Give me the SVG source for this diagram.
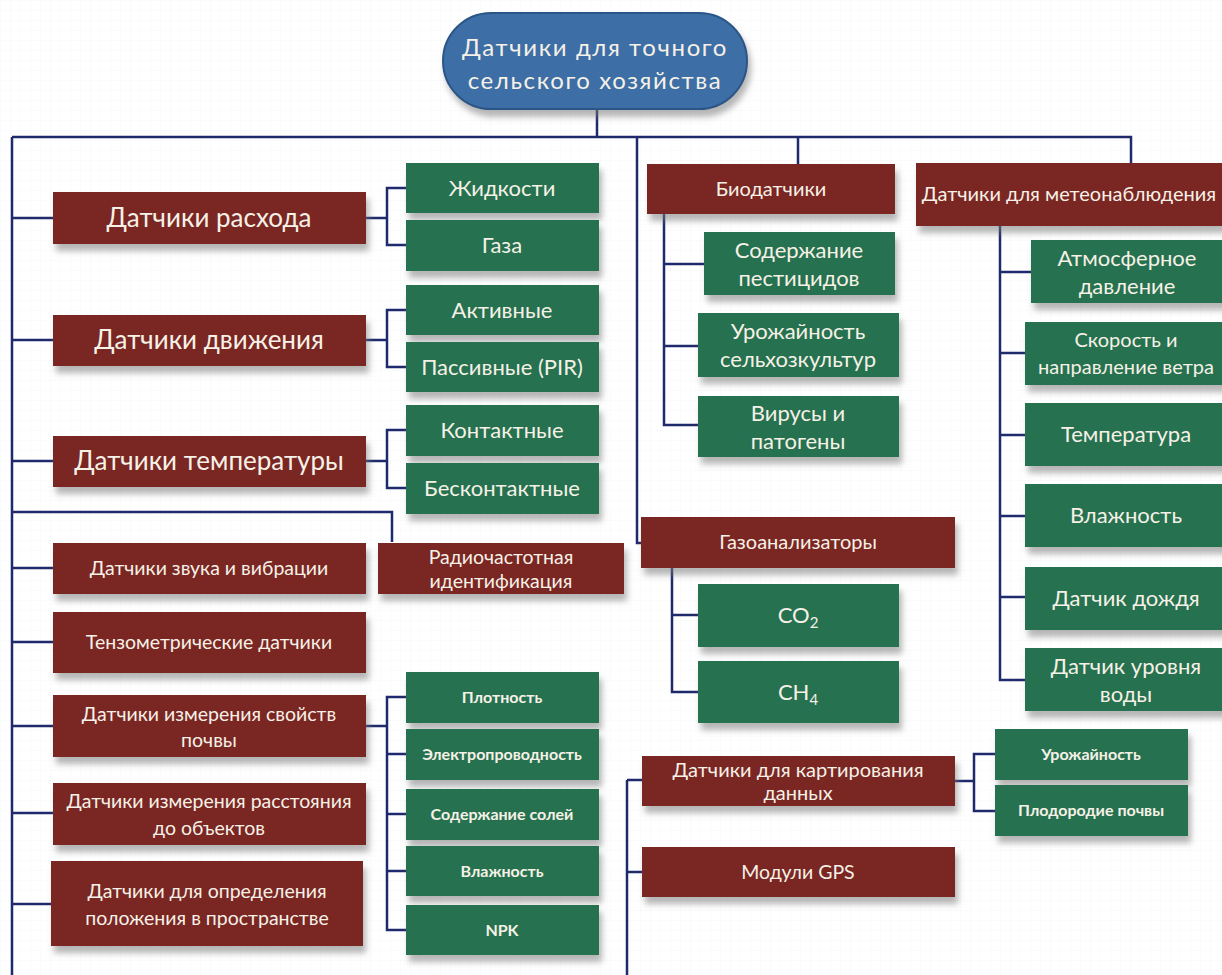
<svg xmlns="http://www.w3.org/2000/svg" width="1222" height="975" viewBox="0 0 1222 975">
<defs>
<pattern id="grid" width="10" height="10" patternUnits="userSpaceOnUse">
<path d="M10 0H0V10" fill="none" stroke="#f0f2f5" stroke-width="0.7"/>
</pattern>
<filter id="sh" x="-10%" y="-20%" width="125%" height="160%">
<feDropShadow dx="3" dy="7" stdDeviation="3" flood-color="#7a7a7a" flood-opacity="0.55"/>
</filter>
</defs>
<style>
.r{fill:#7a2622;filter:url(#sh)}
.g{fill:#27714f;filter:url(#sh)}
.b{fill:#3d6ea6;stroke:#2b5687;stroke-width:2;filter:url(#sh)}
text{font-family:Lato,"Noto Sans",sans-serif;fill:#f6f1e7;text-anchor:middle}
.t0{font-size:24px;letter-spacing:1.6px}
.tL{font-size:26px}
.tM{font-size:22px}
.tS{font-size:19.5px}
.tX{font-size:20px}
.tXS{font-size:16px;font-weight:bold}
.c{fill:none;stroke:#1f2a6c;stroke-width:2.5}
</style>
<rect width="1222" height="975" fill="#ffffff"/>
<rect width="1222" height="975" fill="url(#grid)"/>

<g id="connectors">
<path class="c" d="M597 108V137M12 137H1131V163M798 137V164M637 137V543H641M12 137V975"/>
<path class="c" d="M12 218H53M12 340H53M12 461H53M12 568H53M12 642H53M12 726H53M12 813H53M12 904H51"/>
<path class="c" d="M12 512H392V542"/>
<path class="c" d="M366 218H387M406 188H387V245H406"/>
<path class="c" d="M366 340H387M406 310H387V367H406"/>
<path class="c" d="M366 461H387M406 430H387V488H406"/>
<path class="c" d="M366 726H387M406 697H387V930H406M387 754H406M387 814H406M387 871H406"/>
<path class="c" d="M664 214V425H698M664 264H704M664 346H698"/>
<path class="c" d="M1000 226V680H1025M1000 272H1031M1000 353H1025M1000 435H1025M1000 516H1025M1000 597H1025"/>
<path class="c" d="M672 568V692H698M672 615H698"/>
<path class="c" d="M955 781H974M995 754H974V811H995"/>
<path class="c" d="M627 780V975M627 780H642M627 872H642"/>
</g>

<g id="root"><rect class="b" x="443" y="13" width="304" height="96" rx="48"/>
<text class="t0" x="595" y="56">Датчики для точного</text>
<text class="t0" x="595" y="89">сельского хозяйства</text></g>

<g id="rashod"><rect class="r" x="53" y="192" width="313" height="52"/><text class="tL" x="209" y="227">Датчики расхода</text></g>
<g id="zhidkosti"><rect class="g" x="406" y="163" width="193" height="50"/><text class="tM" x="502" y="196">Жидкости</text></g>
<g id="gaza"><rect class="g" x="406" y="220" width="193" height="51"/><text class="tM" x="502" y="253">Газа</text></g>

<g id="dvizh"><rect class="r" x="53" y="315" width="313" height="51"/><text class="tL" x="209" y="349">Датчики движения</text></g>
<g id="aktiv"><rect class="g" x="406" y="285" width="193" height="50"/><text class="tM" x="502" y="318">Активные</text></g>
<g id="passiv"><rect class="g" x="406" y="342" width="193" height="50"/><text class="tM" x="502" y="375">Пассивные (PIR)</text></g>

<g id="temp"><rect class="r" x="53" y="436" width="313" height="51"/><text class="tL" x="209" y="470">Датчики температуры</text></g>
<g id="kontakt"><rect class="g" x="406" y="405" width="193" height="51"/><text class="tM" x="502" y="438">Контактные</text></g>
<g id="beskontakt"><rect class="g" x="406" y="463" width="193" height="51"/><text class="tM" x="502" y="496">Бесконтактные</text></g>

<g id="zvuk"><rect class="r" x="53" y="543" width="313" height="51"/><text class="tS" x="209" y="575">Датчики звука и вибрации</text></g>
<g id="rfid"><rect class="r" x="378" y="543" width="246" height="51"/><text class="tS" x="501" y="564">Радиочастотная</text><text class="tS" x="501" y="588">идентификация</text></g>
<g id="tenzo"><rect class="r" x="53" y="612" width="313" height="61"/><text class="tS" x="209" y="649">Тензометрические датчики</text></g>
<g id="pochva"><rect class="r" x="53" y="695" width="313" height="62"/><text class="tS" x="209" y="721">Датчики измерения свойств</text><text class="tS" x="209" y="747">почвы</text></g>
<g id="rasst"><rect class="r" x="53" y="783" width="313" height="62"/><text class="tS" x="209" y="808">Датчики измерения расстояния</text><text class="tS" x="209" y="835">до объектов</text></g>
<g id="polozh"><rect class="r" x="51" y="861" width="312" height="85"/><text class="tS" x="207" y="898">Датчики для определения</text><text class="tS" x="207" y="925">положения в пространстве</text></g>

<g id="plotn"><rect class="g" x="406" y="672" width="193" height="51"/><text class="tXS" x="502" y="703">Плотность</text></g>
<g id="elektro"><rect class="g" x="406" y="729" width="193" height="51"/><text class="tXS" x="502" y="760">Электропроводность</text></g>
<g id="soli"><rect class="g" x="406" y="789" width="193" height="51"/><text class="tXS" x="502" y="820">Содержание солей</text></g>
<g id="vlazh1"><rect class="g" x="406" y="846" width="193" height="50"/><text class="tXS" x="502" y="877">Влажность</text></g>
<g id="npk"><rect class="g" x="406" y="905" width="193" height="50"/><text class="tXS" x="502" y="936">NPK</text></g>

<g id="bio"><rect class="r" x="647" y="164" width="248" height="50"/><text class="tX" x="771" y="196">Биодатчики</text></g>
<g id="pest"><rect class="g" x="704" y="232" width="191" height="63"/><text class="tM" x="799" y="258">Содержание</text><text class="tM" x="799" y="286">пестицидов</text></g>
<g id="urozh"><rect class="g" x="698" y="313" width="201" height="64"/><text class="tM" x="798" y="339">Урожайность</text><text class="tM" x="798" y="367">сельхозкультур</text></g>
<g id="virus"><rect class="g" x="698" y="396" width="201" height="61"/><text class="tM" x="798" y="421">Вирусы и</text><text class="tM" x="798" y="449">патогены</text></g>

<g id="gas"><rect class="r" x="641" y="517" width="314" height="51"/><text class="tX" x="798" y="549">Газоанализаторы</text></g>
<g id="co2"><rect class="g" x="698" y="584" width="201" height="63"/><text class="tM" x="798" y="623">CO<tspan font-size="15" dy="5">2</tspan></text></g>
<g id="ch4"><rect class="g" x="698" y="661" width="201" height="62"/><text class="tM" x="798" y="700">CH<tspan font-size="15" dy="5">4</tspan></text></g>

<g id="meteo"><rect class="r" x="916" y="163" width="310" height="63"/><text class="tX" x="1069" y="201">Датчики для метеонаблюдения</text></g>
<g id="atm"><rect class="g" x="1031" y="240" width="195" height="63"/><text class="tM" x="1127" y="266">Атмосферное</text><text class="tM" x="1127" y="294">давление</text></g>
<g id="veter"><rect class="g" x="1025" y="322" width="201" height="63"/><text class="tX" x="1126" y="347">Скорость и</text><text class="tX" x="1126" y="374">направление ветра</text></g>
<g id="temp2"><rect class="g" x="1025" y="403" width="201" height="63"/><text class="tM" x="1126" y="442">Температура</text></g>
<g id="vlazh2"><rect class="g" x="1025" y="484" width="201" height="63"/><text class="tM" x="1126" y="523">Влажность</text></g>
<g id="dozhd"><rect class="g" x="1025" y="567" width="201" height="63"/><text class="tM" x="1126" y="606">Датчик дождя</text></g>
<g id="voda"><rect class="g" x="1025" y="648" width="201" height="63"/><text class="tM" x="1126" y="674">Датчик уровня</text><text class="tM" x="1126" y="702">воды</text></g>

<g id="kart"><rect class="r" x="642" y="756" width="313" height="50"/><text class="tX" x="798" y="777">Датчики для картирования</text><text class="tX" x="798" y="800">данных</text></g>
<g id="urozh2"><rect class="g" x="995" y="729" width="193" height="51"/><text class="tXS" x="1091" y="760">Урожайность</text></g>
<g id="plodor"><rect class="g" x="995" y="785" width="193" height="51"/><text class="tXS" x="1091" y="816">Плодородие почвы</text></g>
<g id="gps"><rect class="r" x="642" y="847" width="313" height="50"/><text class="tS" x="798" y="879">Модули GPS</text></g>
</svg>
